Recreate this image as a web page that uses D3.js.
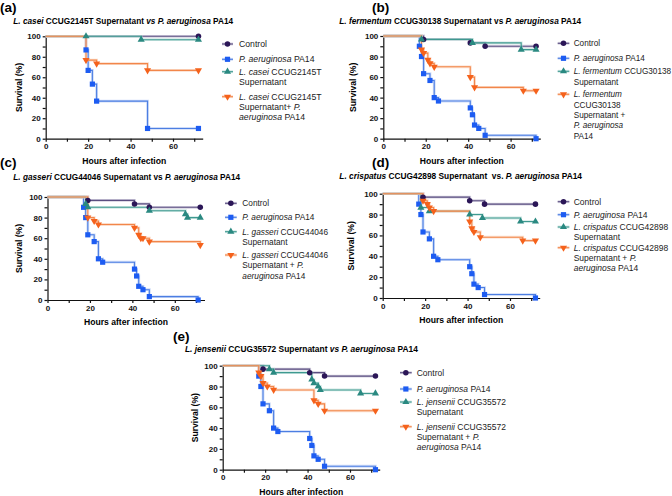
<!DOCTYPE html>
<html><head><meta charset="utf-8">
<script src="https://cdn.jsdelivr.net/npm/d3@7"></script>
<style>body{margin:0;background:#fff} svg{display:block} text{font-family:"Liberation Sans",Arial,sans-serif}</style>
</head><body><svg id="c" width="672" height="496"></svg>
<script>
// ---- tick labels ----
const xTickValues = [0, 10, 20, 30, 40, 50, 60, 70];
const xTickLabels = [0, 20, 40, 60];
const yTickValues = [0, 10, 20, 30, 40, 50, 60, 70, 80, 90, 100];
const yTickLabels = [0, 20, 40, 60, 80, 100];
const xTitle = "Hours after infection";
const yTitle = "Survival (%)";

// ---- data: [hour, survival %] at each step / marker ----
const aControl = [[72,100]];
const aPA14 = [[19,86.7],[20,66.7],[22,53.3],[24,36.7],[48,10],[72,10]];
const aSup = [[19,100],[45,96.7],[72,96.7]];
const aMix = [[19,76.7],[24,73.3],[48,66.7],[72,66.7]];

const bControl = [[19,96.7],[41,93.3],[48,90],[72,90]];
const bPA14 = [[17,90],[18,80],[19,63.3],[22,56.7],[24,40],[26,36.7],[41,30],[42,23.3],[43,13.3],[45,10],[48,3.3],[72,0]];
const bSup = [[18,96.7],[42,93.3],[65,86.7],[72,86.7]];
const bMix = [[18,86.7],[19,83.3],[21,76.7],[22,73.3],[24,70],[41,60],[43,50],[66,46.7],[72,46.7]];

const cControl = [[19,96.7],[41,93.3],[48,90],[72,90]];
const cPA14 = [[17,90],[18,80],[19,63.3],[22,56.7],[24,40],[26,36.7],[41,30],[42,23.3],[43,13.3],[45,10],[48,3.3],[71,0]];
const cSup = [[18,93.3],[19,90],[48,86.7],[65,83.3],[66,80],[72,80]];
const cMix = [[19,80],[22,76.7],[24,73.3],[41,70],[43,63.3],[44,60],[45,60],[48,56.7],[72,53.3]];

const dControl = [[19,96.7],[41,93.3],[48,90],[72,90]];
const dPA14 = [[17,90],[18,80],[19,63.3],[22,56.7],[24,40],[26,36.7],[41,30],[42,23.3],[43,13.3],[45,10],[48,3.3],[72,0]];
const dSup = [[18,86.7],[22,83.3],[41,80],[47,76.7],[65,73.3],[72,73.3]];
const dMix = [[19,93.3],[21,90],[22,86.7],[24,83.3],[41,73.3],[42,66.7],[43,63.3],[46,58.3],[66,55],[72,55]];

const eControl = [[19,96.7],[41,93.3],[48,90],[72,90]];
const ePA14 = [[17,90],[18,80],[19,63.3],[22,56.7],[24,40],[26,36.7],[41,30],[42,23.3],[43,13.3],[45,10],[48,3.3],[72,0]];
const eSup = [[22,96.7],[24,93.3],[42,86.7],[43,83.3],[45,80],[46,76.7],[65,73.3],[72,73.3]];
const eMix = [[17,93.3],[18,90],[19,83.3],[21,80],[24,76.7],[43,66.7],[45,63.3],[48,56.7],[72,56.7]];

// ---- texts (_..._ = italic) ----
const panelLetters = ["(a)","(b)","(c)","(d)","(e)"];
const panelTitles = [
  "_L. casei_ CCUG2145T Supernatant _vs P. aeruginosa_ PA14",
  "_L. fermentum_ CCUG30138 Supernatant vs _P. aeruginosa_ PA14",
  "_L. gasseri_ CCUG44046 Supernatant vs _P. aeruginosa_ PA14",
  "_L. crispatus_ CCUG42898 Supernatant  vs. _P. aeruginosa_ PA14",
  "_L. jensenii_ CCUG35572 Supernatant _vs P. aeruginosa_ PA14"
];
const aLegend = [["Control"],["_P. aeruginosa_ PA14"],["_L. casei_ CCUG2145T","Supernatant"],["_L. casei_ CCUG2145T","Supernatant+ _P._","_aeruginosa_ PA14"]];
const bLegend = [["Control"],["_P. aeruginosa_ PA14"],["_L. fermentum_ CCUG30138","Supernatant"],["_L. fermentum_","CCUG30138","Supernatant +","_P. aeruginosa_","PA14"]];
const cLegend = [["Control"],["_P. aeruginosa_ PA14"],["_L. gasseri_ CCUG44046","Supernatant"],["_L. gasseri_ CCUG44046","Supernatant + _P._","_aeruginosa_ PA14"]];
const dLegend = [["Control"],["_P. aeruginosa_ PA14"],["_L. crispatus_ CCUG42898","Supernatant"],["_L. crispatus_ CCUG42898","Supernatant + _P._","_aeruginosa_ PA14"]];
const eLegend = [["Control"],["_P. aeruginosa_ PA14"],["_L. jensenii_ CCUG35572","Supernatant"],["_L. jensenii_ CCUG35572","Supernatant + _P._","_aeruginosa_ PA14"]];

// ---- styles ----
const styles = [
  {mark:"#2b1657", line:"#5a4e80", halo:"#b9b3cc", shape:d3.symbolCircle, size:24, rot:0},
  {mark:"#1d5cf2", line:"#4c7ee2", halo:"#aec4f3", shape:d3.symbolSquare, size:27, rot:0},
  {mark:"#2a8981", line:"#3f9990", halo:"#b2d8d4", shape:d3.symbolTriangle, size:22, rot:0},
  {mark:"#f5621c", line:"#f2864a", halo:"#f8c6a8", shape:d3.symbolTriangle, size:22, rot:180}
];

// ---- layout ----
const panels = [
  {letter:[0,11.5], title:[13.3,24,220], x0:45.7, yTop:36.3, yBot:138.7, ylabX:19, legLine:[222,233], legText:239, legFont:8.7, legY:[44,59.3,71.7,96.7], series:[aControl,aPA14,aSup,aMix], legend:aLegend},
  {letter:[372,11.5], title:[339.3,24,242], x0:383.3, yTop:36, yBot:138.7, ylabX:352.7, legLine:[557.7,569.3], legText:573.7, legFont:8.2, legY:[43.3,58.3,71.3,94.3], series:[bControl,bPA14,bSup,bMix], legend:bLegend},
  {letter:[0,166.5], title:[13.3,180,227], x0:47.5, yTop:197, yBot:300, ylabX:18.5, legLine:[225,236.7], legText:242.3, legFont:8.3, legY:[203.3,217.3,231.7,255], series:[cControl,cPA14,cSup,cMix], legend:cLegend},
  {letter:[372,166.5], title:[339.3,179,243], x0:382.7, yTop:193.7, yBot:298, ylabX:351, legLine:[557.7,569.3], legText:573.7, legFont:8.5, legY:[201.7,214.7,227,247.7], series:[dControl,dPA14,dSup,dMix], legend:dLegend},
  {letter:[173,340.5], title:[185,352,233], x0:222.7, yTop:365.7, yBot:469.7, ylabX:195, legLine:[400,411.7], legText:416.7, legFont:8.5, legY:[372.7,389,402,426.7], series:[eControl,ePA14,eSup,eMix], legend:eLegend}
];
const plotW = 157, xMax = 74, legLH = 10.3;

const svg = d3.select("#c");

function addRich(sel, str){
  str.split("_").forEach((s,i)=>{
    if(s.length) sel.append("tspan").attr("font-style", i%2 ? "italic" : "normal").text(s);
  });
}

panels.forEach((p,pi)=>{
  const x = d3.scaleLinear().domain([0,xMax]).range([p.x0, p.x0+plotW]);
  const y = d3.scaleLinear().domain([0,100]).range([p.yBot, p.yTop]);
  const g = svg.append("g");

  g.append("text").attr("x",p.letter[0]).attr("y",p.letter[1]).attr("font-size",13.5).attr("font-weight","bold").text(panelLetters[pi]);
  const t = g.append("text").attr("x",p.title[0]).attr("y",p.title[1]).attr("font-size",8.6).attr("font-weight","bold").attr("xml:space","preserve");
  addRich(t, panelTitles[pi]);
  const w = t.node().getComputedTextLength();
  if (w>0) t.attr("font-size", 8.6*p.title[2]/w);

  const ya = d3.axisLeft(y).tickValues(yTickValues).tickFormat(d=>yTickLabels.includes(d)?d:"").tickSize(3).tickSizeOuter(0).tickPadding(2);
  const xa = d3.axisBottom(x).tickValues(xTickValues).tickFormat(d=>xTickLabels.includes(d)?d:"").tickSize(3).tickSizeOuter(0).tickPadding(2);
  const gy = g.append("g").attr("transform",`translate(${p.x0},0)`).call(ya);
  const gx = g.append("g").attr("transform",`translate(0,${p.yBot})`).call(xa);
  [gx,gy].forEach(a=>{
    a.selectAll("path,line").attr("stroke","#111").attr("stroke-width",1.2);
    a.selectAll("text").attr("font-size",8).attr("font-weight","bold").attr("fill","#111").attr("font-family","Liberation Sans, Arial, sans-serif");
  });
  g.append("text").attr("x",p.x0+plotW/2).attr("y",p.yBot+25).attr("text-anchor","middle").attr("font-size",8.6).attr("font-weight","bold").text(xTitle);
  g.append("text").attr("transform",`translate(${p.ylabX+3},${(p.yTop+p.yBot)/2}) rotate(-90)`).attr("text-anchor","middle").attr("font-size",8.6).attr("font-weight","bold").text(yTitle);

  const line = d3.line().x(d=>x(d[0])).y(d=>y(d[1])).curve(d3.curveStepAfter);
  p.series.forEach((data,i)=>{
    const st = styles[i];
    const pts = [[0,100], ...data];
    g.append("path").attr("d",line(pts)).attr("fill","none").attr("stroke",st.halo).attr("stroke-width",2.8).attr("opacity",0.6);
    g.append("path").attr("d",line(pts)).attr("fill","none").attr("stroke",st.line).attr("stroke-width",1.1);
  });
  p.series.forEach((data,i)=>{
    const st = styles[i];
    g.selectAll(null).data(data).enter().append("path")
      .attr("d", d3.symbol().type(st.shape).size(st.size)())
      .attr("transform", d=>`translate(${x(d[0])},${y(d[1])}) rotate(${st.rot})`)
      .attr("fill", st.mark);
  });

  p.legend.forEach((lines,i)=>{
    const st = styles[i];
    const yy = p.legY[i];
    g.append("line").attr("x1",p.legLine[0]).attr("x2",p.legLine[1]).attr("y1",yy).attr("y2",yy).attr("stroke",st.halo).attr("stroke-width",2.8).attr("opacity",0.6);
    g.append("line").attr("x1",p.legLine[0]).attr("x2",p.legLine[1]).attr("y1",yy).attr("y2",yy).attr("stroke",st.line).attr("stroke-width",1.1);
    g.append("path").attr("d", d3.symbol().type(st.shape).size(st.size)())
      .attr("transform",`translate(${(p.legLine[0]+p.legLine[1])/2},${yy}) rotate(${st.rot})`).attr("fill",st.mark);
    lines.forEach((ln,k)=>{
      const tt = g.append("text").attr("x",p.legText).attr("y",yy+3+k*legLH).attr("font-size",p.legFont).attr("fill","#222");
      addRich(tt, ln);
    });
  });
});
</script></body></html>
